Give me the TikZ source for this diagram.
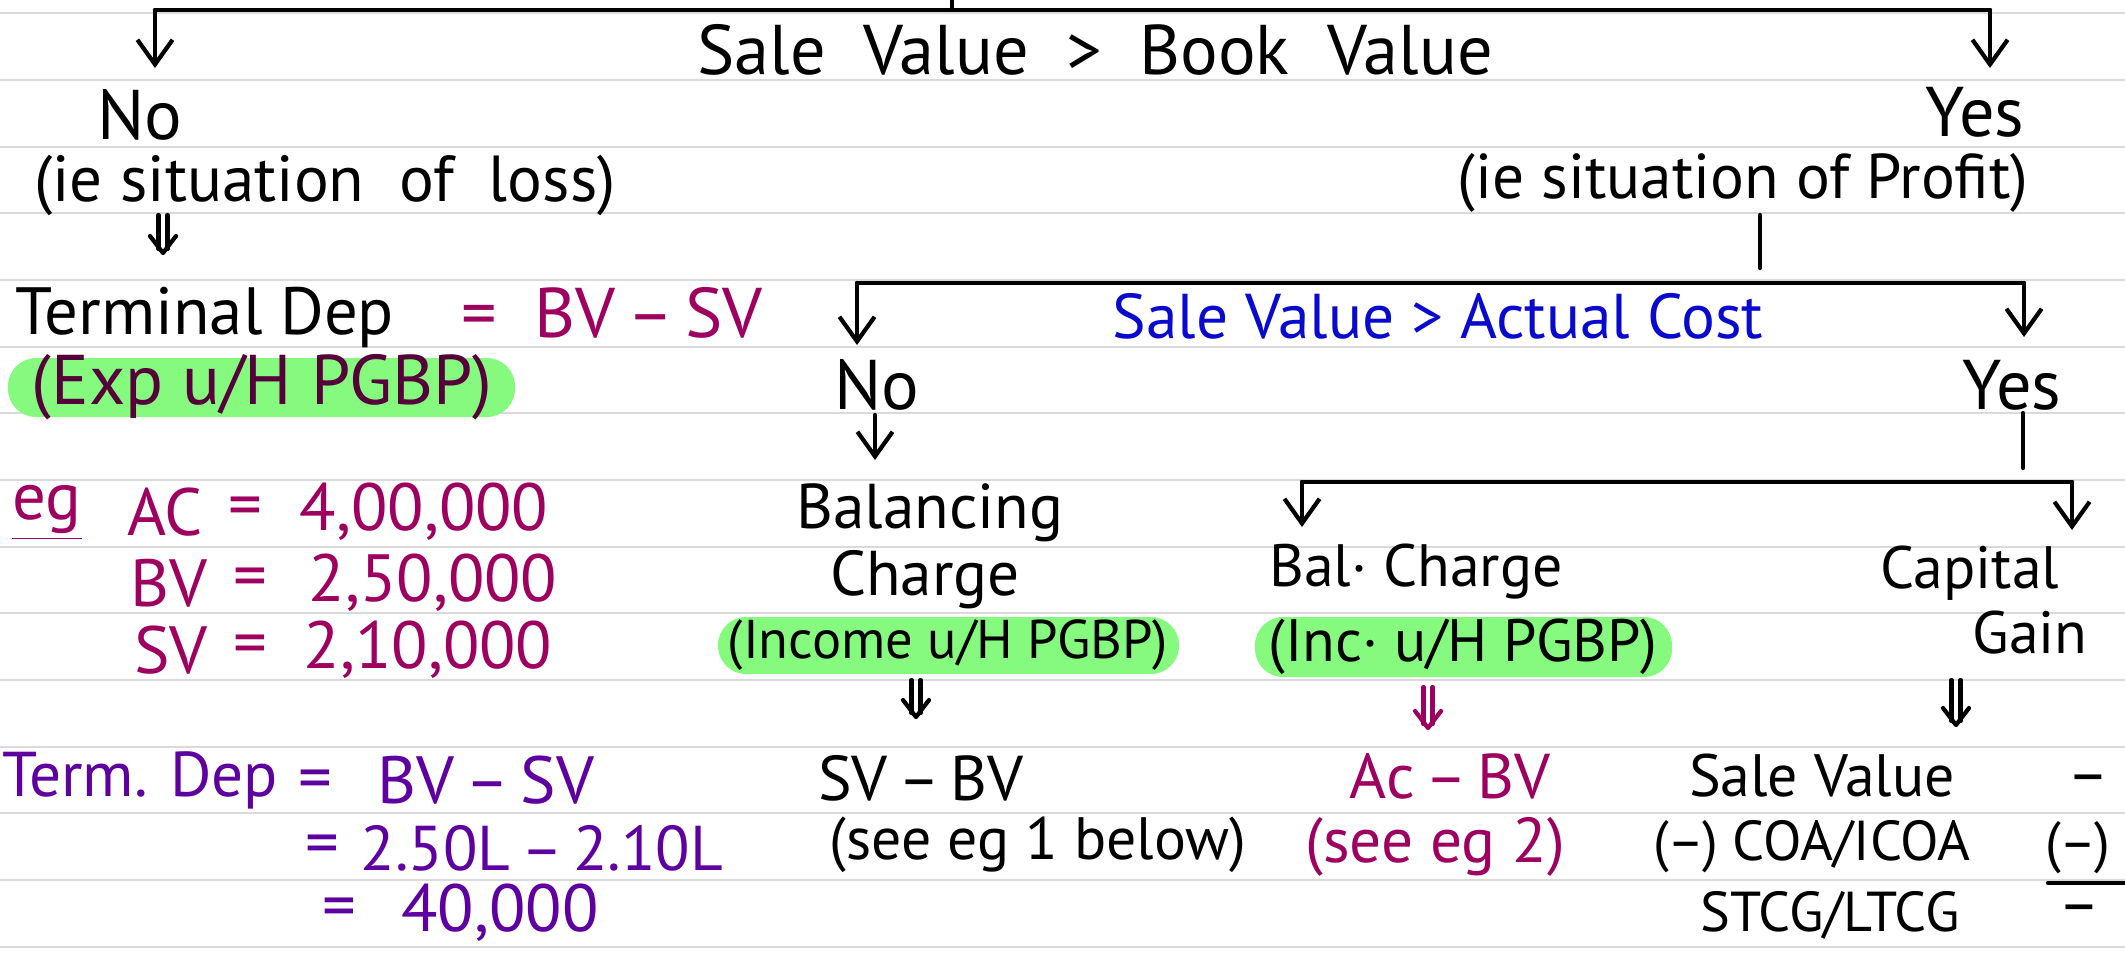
\documentclass[tikz,border=0pt]{standalone}
\usepackage{fontspec}
\setmainfont{PT Sans}
\usetikzlibrary{arrows.meta}
\definecolor{rule}{HTML}{DADADA}
\definecolor{mag}{HTML}{9E0060}
\definecolor{purp}{HTML}{5E00A0}
\definecolor{blu}{HTML}{0A0ACF}
\definecolor{hl}{HTML}{86FA7E}
\definecolor{maroon}{HTML}{55003A}
\newcommand\setfs[1]{\fontsize{#1}{#1}\selectfont}
\tikzset{
  txt/.style={inner sep=0pt, anchor=center},
  pen/.style={line width=1.2pt, line cap=round, line join=round},
  arr/.style={pen, -{Straight Barb[length=7pt,width=10pt,line width=1.2pt]}},
  hlbox/.style={fill=hl, rounded corners=8pt, draw=none},
}
\newcommand\dblarrow[4][black]{%
  \draw[pen,#1] (#2-4.5,#3) -- (#2-4.5,#4-4);
  \draw[pen,#1] (#2+4.5,#3) -- (#2+4.5,#4-4);
  \draw[pen,#1] (#2-13,#4-17) -- (#2,#4) -- (#2+13,#4-17);
}
\begin{document}
\begin{tikzpicture}[x=0.01cm,y=-0.01cm]
\useasboundingbox (0,0) rectangle (2125,960);
\fill[white] (0,0) rectangle (2125,960);
% ruled lines
\foreach \k in {0,...,14} {
  \draw[rule, line width=0.6pt] (0,13.33+66.67*\k) -- (2125,13.33+66.67*\k);
}
% highlights
\fill[hlbox] (8,358) rectangle (515,417);
\fill[hlbox] (718,617) rectangle (1179,674);
\fill[hlbox] (1255,617) rectangle (1672,677);

% ---- top level
\coordinate (stub) at (952,0);
\coordinate (b1m) at (952,10);
\coordinate (b1l) at (155,10);
\coordinate (b1r) at (1990,10);
\coordinate (a1l) at (155,68);
\coordinate (a1r) at (1990,68);
\draw[pen] (stub) -- (b1m);
\draw[pen] (b1l) -- (b1r);
\draw[arr] (b1l) -- (a1l);
\draw[arr] (b1r) -- (a1r);
\node[txt] (t1) at (1095,50) {\setfs{20}Sale\ \ Value\ \ >\ \ Book\ \ Value};

\node[txt] (noA) at (140,115) {\setfs{20}No};
\node[txt] (yesA) at (1975,112) {\setfs{20}Yes};
\node[txt] (loss) at (325,185) {\setfs{18.5}(ie\ situation\ \ of\ \ loss)};
\node[txt] (profit) at (1743,183) {\setfs{18}(ie\ situation\ of\ Profit)};
\dblarrow{163}{215}{253}

\node[txt] (term) at (205,318) {\setfs{19}Terminal Dep};
\node[txt, text=mag] (termf) at (612,313) {\setfs{20}=\ \ BV\,--\,SV};
\node[txt, text=maroon] (exp) at (262,387) {\setfs{20}(Exp u/H PGBP)};

% ---- second bracket
\coordinate (pl1) at (1760,215);
\coordinate (pl2) at (1760,268);
\draw[pen] (pl1) -- (pl2);
\coordinate (b2l) at (857,283);
\coordinate (b2r) at (2024,283);
\coordinate (a2l) at (857,345);
\coordinate (a2r) at (2024,337);
\draw[pen] (b2l) -- (b2r);
\draw[arr] (b2l) -- (a2l);
\draw[arr] (b2r) -- (a2r);
\node[txt, text=blu] (t2) at (1438,316) {\setfs{18}Sale Value > Actual Cost};

\node[txt] (noB) at (877,385) {\setfs{20}No};
\node[txt] (yesB) at (2012,385) {\setfs{20}Yes};
\coordinate (nb1) at (875,415);
\coordinate (nb2) at (875,460);
\draw[arr] (nb1) -- (nb2);
\coordinate (yb1) at (2023,413);
\coordinate (yb2) at (2023,468);
\draw[pen] (yb1) -- (yb2);

% ---- third bracket
\coordinate (b3l) at (1302,482);
\coordinate (b3r) at (2072,482);
\coordinate (a3l) at (1302,527);
\coordinate (a3r) at (2072,530);
\draw[pen] (b3l) -- (b3r);
\draw[arr] (b3l) -- (a3l);
\draw[arr] (b3r) -- (a3r);

% ---- No branch
\node[txt] (bal) at (930,513) {\setfs{18}Balancing};
\node[txt] (chg) at (925,580) {\setfs{18}Charge};
\node[txt] (inc1) at (948,645) {\setfs{15.5}(Income u/H PGBP)};
\dblarrow{916}{680}{717}
\node[txt] (svbv) at (921,778) {\setfs{18}SV\,--\,BV};
\node[txt] (see1) at (1038,845) {\setfs{17}(see eg 1 below)};

% ---- Yes / Bal charge branch
\node[txt] (bal2) at (1416,572) {\setfs{17}Bal· Charge};
\node[txt] (inc2) at (1463,647) {\setfs{17}(Inc· u/H PGBP)};
\dblarrow[mag]{1428}{687}{728}
\node[txt, text=mag] (acbv) at (1450,776) {\setfs{18}Ac\,--\,BV};
\node[txt, text=mag] (see2) at (1435,847) {\setfs{18}(see eg 2)};

% ---- Capital gain branch
\node[txt] (capi) at (1970,573) {\setfs{17}Capital};
\node[txt] (gain) at (2030,633) {\setfs{17}Gain};
\dblarrow{1956}{680}{725}
\node[txt] (sv3) at (1822,776) {\setfs{17}Sale Value};
\node[txt] (coa) at (1812,847) {\setfs{16}(--) COA/ICOA};
\node[txt] (stcg) at (1830,915) {\setfs{16}STCG/LTCG};
\node[txt] (r1) at (2088,785) {\setfs{18}--};
\node[txt] (r2) at (2078,848) {\setfs{16}(--)};
\coordinate (ul1) at (2048,883);
\coordinate (ul2) at (2125,883);
\draw[pen] (ul1) -- (ul2);
\node[txt] (r3) at (2079,915) {\setfs{18}--};

% ---- example (magenta)
\begin{scope}[every node/.append style={text=mag}]
\node[txt] (eg) at (47,513) {\setfs{19}\underline{eg}};
\node[txt] (ac) at (165,512) {\setfs{19}AC};
\node[txt] (eq1) at (245,512) {\setfs{19}=};
\node[txt] (v1) at (424,512) {\setfs{19}4,00,000};
\node[txt] (bv) at (169,583) {\setfs{19}BV};
\node[txt] (eq2) at (250,583) {\setfs{19}=};
\node[txt] (v2) at (433,583) {\setfs{19}2,50,000};
\node[txt] (sv) at (171,650) {\setfs{19}SV};
\node[txt] (eq3) at (250,650) {\setfs{19}=};
\node[txt] (v3) at (428,650) {\setfs{19}2,10,000};
\end{scope}

% ---- terminal dep calc (purple)
\begin{scope}[every node/.append style={text=purp}]
\node[txt] (td) at (140,780) {\setfs{18}Term. Dep};
\node[txt] (eq4) at (315,785) {\setfs{19}=};
\node[txt] (bvsv) at (486,780) {\setfs{19}BV\,--\,SV};
\node[txt] (eq5) at (322,850) {\setfs{19}=};
\node[txt] (l2) at (542,848) {\setfs{18}2.50L\,--\,2.10L};
\node[txt] (eq6) at (339,913) {\setfs{19}=};
\node[txt] (v4) at (500,913) {\setfs{19}40,000};
\end{scope}
\end{tikzpicture}
\end{document}
